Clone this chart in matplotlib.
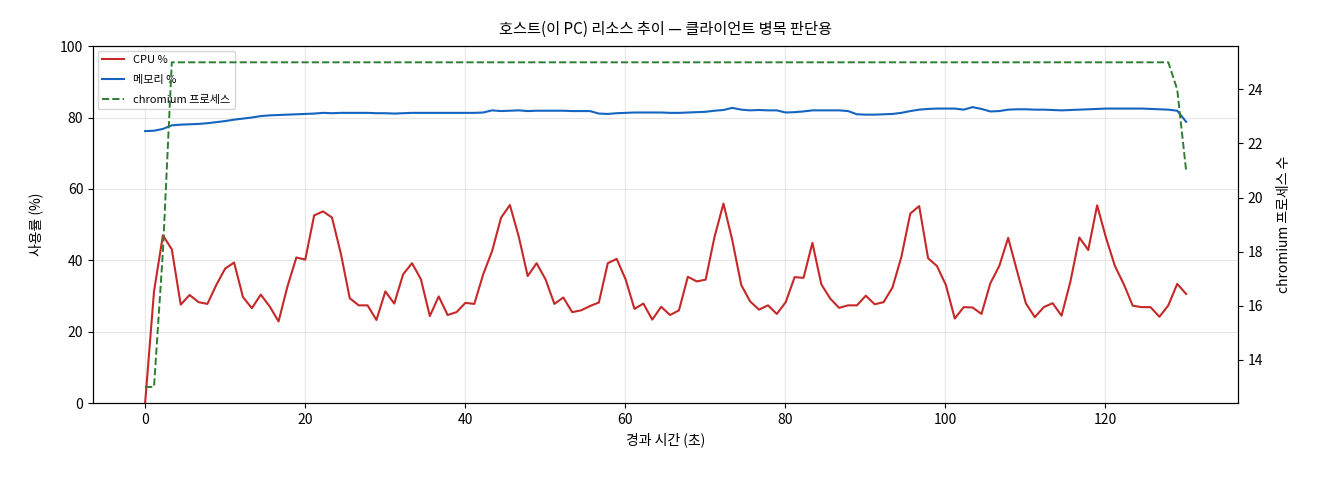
import numpy as np
import matplotlib
matplotlib.use("Agg")
import matplotlib.pyplot as plt

plt.rcParams['font.family'] = ['Noto Sans CJK KR', 'DejaVu Sans']

SAMPLE_INTERVAL = 1.112  # seconds between samples

cpu = [0.0, 31.3, 47.0, 43.1, 27.6, 30.3, 28.3, 27.8, 33.1, 37.7,
       39.4, 29.7, 26.6, 30.4, 27.1, 22.9, 32.7, 40.8, 40.2, 52.6,
       53.7, 52.0, 41.9, 29.4, 27.4, 27.4, 23.3, 31.3, 27.9, 36.1,
       39.2, 34.7, 24.4, 29.9, 24.7, 25.5, 28.1, 27.8, 36.1, 42.6,
       51.9, 55.5, 46.6, 35.6, 39.2, 34.7, 27.8, 29.6, 25.5, 26.0,
       27.2, 28.2, 39.2, 40.4, 34.7, 26.4, 27.9, 23.4, 27.0, 24.7,
       26.0, 35.4, 34.1, 34.6, 46.6, 55.9, 45.6, 33.1, 28.5, 26.2,
       27.4, 25.0, 28.3, 35.3, 35.1, 44.9, 33.3, 29.3, 26.7, 27.4,
       27.4, 30.1, 27.7, 28.3, 32.4, 41.0, 53.1, 55.2, 40.6, 38.4,
       33.1, 23.7, 26.9, 26.8, 25.0, 33.6, 38.4, 46.3, 37.0, 27.9,
       24.1, 26.9, 28.0, 24.5, 34.1, 46.4, 42.9, 55.4, 46.3, 38.4,
       33.3, 27.3, 26.9, 26.9, 24.2, 27.4, 33.4, 30.6]

memory = [76.2, 76.3, 76.8, 77.8, 78.0, 78.1, 78.2, 78.4, 78.7, 79.0,
          79.4, 79.7, 80.0, 80.4, 80.6, 80.7, 80.8, 80.9, 81.0, 81.1,
          81.3, 81.2, 81.3, 81.3, 81.3, 81.3, 81.2, 81.2, 81.1, 81.2,
          81.3, 81.3, 81.3, 81.3, 81.3, 81.3, 81.3, 81.3, 81.4, 82.0,
          81.8, 81.9, 82.0, 81.8, 81.9, 81.9, 81.9, 81.9, 81.8, 81.8,
          81.8, 81.1, 81.0, 81.2, 81.3, 81.4, 81.4, 81.4, 81.4, 81.3,
          81.3, 81.4, 81.5, 81.6, 81.9, 82.1, 82.7, 82.2, 82.0, 82.1,
          82.0, 82.0, 81.4, 81.5, 81.7, 82.0, 82.0, 82.0, 82.0, 81.8,
          80.9, 80.8, 80.8, 80.9, 81.0, 81.3, 81.8, 82.2, 82.4, 82.5,
          82.5, 82.5, 82.2, 82.9, 82.4, 81.7, 81.8, 82.2, 82.3, 82.3,
          82.2, 82.2, 82.1, 82.0, 82.1, 82.2, 82.3, 82.4, 82.5, 82.5,
          82.5, 82.5, 82.5, 82.4, 82.3, 82.2, 81.9, 78.8]

chromium = [13, 13, 18] + [25] * 113 + [24, 21]

elapsed = np.arange(len(cpu)) * SAMPLE_INTERVAL

fig = plt.figure(figsize=(13.2, 4.8), dpi=100)
ax = fig.add_axes([0.0705, 0.160, 0.8675, 0.744])
ax2 = ax.twinx()

l1, = ax.plot(elapsed, cpu, color='#c62828', lw=1.5, label='CPU %')
l2, = ax.plot(elapsed, memory, color='#1565c0', lw=1.5, label='메모리 %')
l3, = ax2.plot(elapsed, chromium, color='#2e7d32', lw=1.4, ls='--',
               label='chromium 프로세스')

ax.set_ylim(0, 100)
ax.set_xlabel('경과 시간 (초)', fontsize=10)
ax.set_ylabel('사용률 (%)', fontsize=10, labelpad=12)
ax2.set_ylabel('chromium 프로세스 수', fontsize=10, labelpad=10)
ax.set_title('호스트(이 PC) 리소스 추이 — 클라이언트 병목 판단용', fontsize=11, pad=9)
ax.grid(True, alpha=0.3)
ax.tick_params(labelsize=10)
ax2.tick_params(labelsize=10)

ax.legend(handles=[l1, l2, l3], loc='upper left', fontsize=8,
          labelspacing=0.9, borderaxespad=0.4)

fig.savefig('out.png', dpi=100)
